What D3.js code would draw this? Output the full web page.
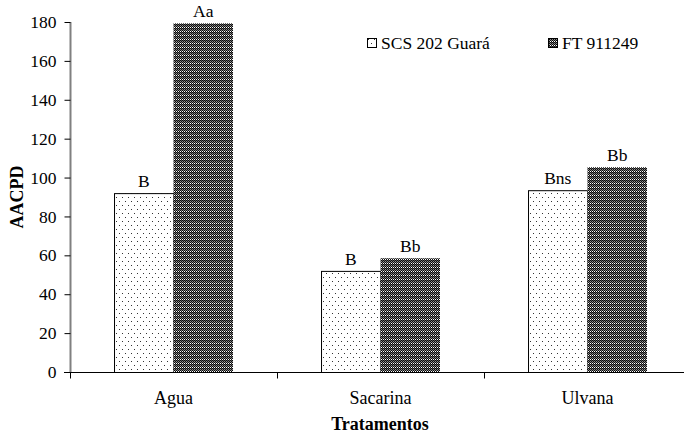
<!DOCTYPE html>
<html lang="en">
    <head>
        <meta charset="utf-8">
        <title>AACPD por tratamento</title>
        <script type="text/javascript" src="https://cdn.jsdelivr.net/npm/d3@7"></script>
        <style type="text/css">
            body { margin: 0; background: #fff; }
            text { font-family: "Liberation Serif", "Times New Roman", serif; }
        </style>
    </head>
    <body>
        <script type="text/javascript">
            var w = 684;
            var h = 435;

            //Data
            var categories = ["Agua", "Sacarina", "Ulvana"];
            var seriesNames = ["SCS 202 Guará", "FT 911249"];
            var scsValues = [92, 52, 93.5];
            var ftValues = [179.3, 58.5, 105.3];
            var scsLabels = ["B", "B", "Bns"];
            var ftLabels = ["Aa", "Bb", "Bb"];
            var yTicks = [0, 20, 40, 60, 80, 100, 120, 140, 160, 180];

            var plotLeft = 70, plotRight = 691, plotTop = 22, plotBottom = 372;

            var xScale = d3.scaleBand()
                .domain(categories)
                .range([plotLeft, plotRight]);

            var inner = d3.scaleBand()
                .domain([0, 1])
                .range([0, xScale.bandwidth()])
                .paddingOuter(0.74)
                .paddingInner(0);

            var yScale = d3.scaleLinear()
                .domain([0, 180])
                .range([plotBottom, plotTop]);

            var svg = d3.select("body")
                .append("svg")
                .attr("width", w)
                .attr("height", h);

            // fill patterns
            var defs = svg.append("defs");
            var dots = defs.append("pattern")
                .attr("id", "dots")
                .attr("patternUnits", "userSpaceOnUse")
                .attr("width", 6)
                .attr("height", 8);
            dots.append("rect").attr("width", 6).attr("height", 8).attr("fill", "#fff");
            dots.append("rect").attr("x", 1).attr("y", 1).attr("width", 1).attr("height", 1).attr("fill", "#333");
            dots.append("rect").attr("x", 4).attr("y", 5).attr("width", 1).attr("height", 1).attr("fill", "#333");

            var checks = defs.append("pattern")
                .attr("id", "checks")
                .attr("patternUnits", "userSpaceOnUse")
                .attr("width", 4)
                .attr("height", 4);
            checks.append("rect").attr("width", 4).attr("height", 4).attr("fill", "#0a0a0a");
            [[0, 1, "#8a8a8a"], [2, 1, "#8a8a8a"], [1, 2, "#8a8a8a"], [3, 2, "#8a8a8a"],
             [0, 3, "#fff"], [2, 3, "#fff"], [1, 0, "#555"], [3, 0, "#555"]].forEach(function(p) {
                checks.append("rect").attr("x", p[0]).attr("y", p[1])
                    .attr("width", 1).attr("height", 1).attr("fill", p[2]);
            });

            // bars
            var groups = svg.selectAll("g.cat")
                .data(categories)
                .enter()
                .append("g")
                .attr("class", "cat")
                .attr("transform", function(d) { return "translate(" + xScale(d) + ",0)"; });

            groups.append("rect")
                .attr("x", inner(0) + 0.5)
                .attr("width", inner.bandwidth())
                .attr("y", function(d, i) { return yScale(scsValues[i]) + 0.5; })
                .attr("height", function(d, i) { return plotBottom - yScale(scsValues[i]); })
                .attr("fill", "url(#dots)")
                .attr("stroke", "#000")
                .attr("stroke-width", 1);

            groups.append("rect")
                .attr("x", inner(1))
                .attr("width", inner.bandwidth())
                .attr("y", function(d, i) { return yScale(ftValues[i]); })
                .attr("height", function(d, i) { return plotBottom - yScale(ftValues[i]); })
                .attr("fill", "url(#checks)");

            // significance letters
            groups.append("text")
                .attr("x", inner(0) + inner.bandwidth() / 2)
                .attr("y", function(d, i) { return yScale(scsValues[i]) - 6; })
                .attr("text-anchor", "middle")
                .attr("font-size", "17.5px")
                .text(function(d, i) { return scsLabels[i]; });

            groups.append("text")
                .attr("x", inner(1) + inner.bandwidth() / 2)
                .attr("y", function(d, i) { return yScale(ftValues[i]) - 6; })
                .attr("text-anchor", "middle")
                .attr("font-size", "17.5px")
                .text(function(d, i) { return ftLabels[i]; });

            // y axis
            var yAxis = d3.axisLeft(yScale)
                .tickValues(yTicks)
                .tickSize(6)
                .tickPadding(8);
            var gy = svg.append("g")
                .attr("transform", "translate(" + (plotLeft + 0.5) + ",0)")
                .call(yAxis);
            gy.select(".domain").attr("stroke", "#808080").attr("stroke-width", 2)
                .attr("d", "M0," + plotTop + "V" + plotBottom);
            gy.selectAll(".tick line").attr("stroke", "#000");
            gy.selectAll(".tick text")
                .attr("font-family", "Liberation Serif, serif")
                .attr("font-size", "17.5px")
                .attr("fill", "#000");

            // x axis
            var xAxis = d3.axisBottom(xScale)
                .tickSize(0)
                .tickPadding(19);
            var gx = svg.append("g")
                .attr("transform", "translate(0," + (plotBottom + 0.5) + ")")
                .call(xAxis);
            gx.select(".domain").attr("stroke", "#000").attr("d", "M" + (plotLeft - 6) + ",0H" + plotRight);
            gx.selectAll(".tick text")
                .attr("font-family", "Liberation Serif, serif")
                .attr("font-size", "18px")
                .attr("fill", "#000");

            // category separators
            var seps = categories.map(function(d) { return xScale(d); });
            gx.selectAll("line.sep")
                .data(seps)
                .enter()
                .append("line")
                .attr("class", "sep")
                .attr("x1", function(d) { return Math.round(d) + 0.5; })
                .attr("x2", function(d) { return Math.round(d) + 0.5; })
                .attr("y1", 0)
                .attr("y2", 6)
                .attr("stroke", "#000");

            // axis titles
            svg.append("text")
                .attr("transform", "translate(23," + ((plotTop + plotBottom) / 2) + ") rotate(-90)")
                .attr("text-anchor", "middle")
                .attr("font-size", "18px")
                .attr("font-weight", "bold")
                .text("AACPD");

            svg.append("text")
                .attr("x", 380)
                .attr("y", 430)
                .attr("text-anchor", "middle")
                .attr("font-size", "18px")
                .attr("font-weight", "bold")
                .text("Tratamentos");

            // legend
            var legendX = [367, 548];
            var legendFill = ["url(#dots)", "url(#checks)"];
            var legend = svg.selectAll("g.legend")
                .data(seriesNames)
                .enter()
                .append("g")
                .attr("class", "legend")
                .attr("transform", function(d, i) { return "translate(" + legendX[i] + ",38)"; });
            legend.append("rect")
                .attr("x", 0.5)
                .attr("y", 0.5)
                .attr("width", 9)
                .attr("height", 9)
                .attr("fill", function(d, i) { return legendFill[i]; })
                .attr("stroke", "#000");
            legend.append("text")
                .attr("x", 14)
                .attr("y", 11)
                .attr("font-size", "17.5px")
                .text(function(d) { return d; });
        </script>
    </body>
</html>
